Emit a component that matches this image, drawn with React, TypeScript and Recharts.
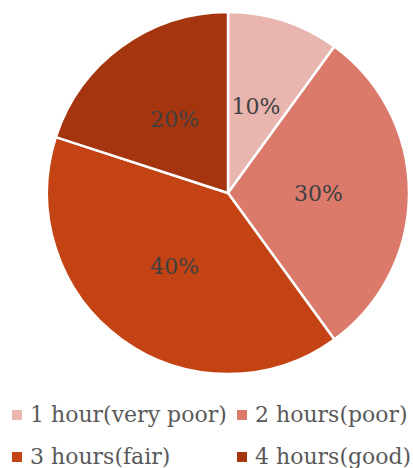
import React from "react"
import { PieChart, Pie, Cell, Legend } from "recharts"

const categories = ["1 hour(very poor)", "2 hours(poor)", "3 hours(fair)", "4 hours(good)"]
const shares = [10, 30, 40, 20]
const colors = ["#E8B5AF", "#DB7A6B", "#C44314", "#A5350F"]

const data = categories.map((name, i) => ({ name, value: shares[i] }))

const RAD = Math.PI / 180
const FONT = "'DejaVu Serif', serif"

const renderLabel = (props: any) => {
  const { cx, cy, midAngle, outerRadius, value } = props
  const r = outerRadius * 0.5
  const x = cx + r * Math.cos(-midAngle * RAD)
  const y = cy + r * Math.sin(-midAngle * RAD)
  return (
    <text x={x} y={y} fill="#404040" fontSize={22} fontFamily={FONT} textAnchor="middle" dominantBaseline="central">
      {value}%
    </text>
  )
}

const renderLegend = () => (
  <div
    style={{
      display: "grid",
      gridTemplateColumns: "225px 188px",
      rowGap: 16,
      fontFamily: FONT,
      fontSize: 22,
      lineHeight: "26px",
      color: "#595959",
    }}
  >
    {categories.map((c, i) => (
      <div key={c} style={{ display: "flex", alignItems: "center", paddingLeft: 12, whiteSpace: "nowrap" }}>
        <span style={{ width: 10, height: 10, background: colors[i], marginRight: 8, flex: "none" }} />
        {c}
      </div>
    ))}
  </div>
)

const App: React.FC = () => {
  return (
    <div style={{ position: "absolute", left: 0, top: 0, width: 413, height: 468, background: "#fff" }}>
      <PieChart width={413} height={468} margin={{ top: 0, right: 0, bottom: 0, left: 0 }}>
        <Pie
          data={data}
          dataKey="value"
          nameKey="name"
          cx={228}
          cy={193}
          outerRadius={181}
          startAngle={90}
          endAngle={-270}
          stroke="#fff"
          strokeWidth={2.5}
          label={renderLabel}
          labelLine={false}
          isAnimationActive={false}
        >
          {data.map((d, i) => (
            <Cell key={d.name} fill={colors[i]} />
          ))}
        </Pie>
        <Legend content={renderLegend} wrapperStyle={{ left: 0, top: 402, width: 413 }} />
      </PieChart>
    </div>
  )
}

export default App
